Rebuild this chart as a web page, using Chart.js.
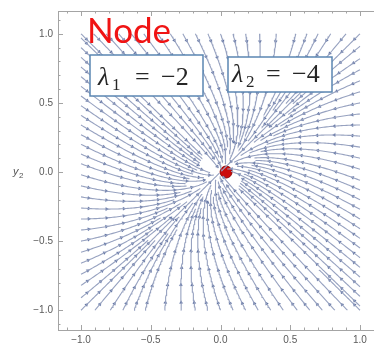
<!DOCTYPE html>
<html>
<head>
<meta charset="utf-8">
<script src="https://cdn.jsdelivr.net/npm/chart.js@4.4.1/dist/chart.umd.min.js"></script>
<style>
  html, body { margin: 0; padding: 0; background: #fff; overflow: hidden; width: 374px; height: 350px; }
  #wrap { position: absolute; left: 0; top: 0; width: 392px; height: 350px; }
</style>
</head>
<body>
<div id="wrap"><canvas id="c" width="392" height="350"></canvas></div>
<script>
// Linear system y' = A y, built from its eigenvalues and eigenvectors
const eigenvalues = [-2, -4];
const eigenvectors = [[1, 1], [1, -1]];

// Streamline start points on the edges of the square [-1, 1] x [-1, 1]
const bottomSeedsX = [-1.0, -0.9, -0.79, -0.7, -0.62, -0.54, -0.4, -0.28, -0.18, -0.09, 0.0, 0.09, 0.18, 0.27, 0.36, 0.45, 0.55, 0.64, 0.73, 0.82, 0.91, 1.0];
const topSeedsX = [1.0, 0.9, 0.79, 0.7, 0.62, 0.54, 0.4, 0.28, 0.18, 0.09, 0.0, -0.09, -0.18, -0.27, -0.36, -0.45, -0.55, -0.64, -0.73, -0.82, -0.91, -1.0];
const leftSeedsY = [0.97, 0.9, 0.83, 0.76, 0.69, 0.62, 0.55, 0.48, 0.41, 0.34, 0.27, 0.2, 0.13, 0.06, -0.02, -0.1, -0.18, -0.26, -0.34, -0.42, -0.5, -0.58, -0.66, -0.74, -0.82, -0.91];
const rightSeedsY = [-0.97, -0.9, -0.83, -0.76, -0.69, -0.62, -0.55, -0.48, -0.41, -0.34, -0.27, -0.2, -0.13, -0.06, 0.02, 0.1, 0.18, 0.26, 0.34, 0.42, 0.5, 0.58, 0.66, 0.74, 0.82, 0.91];

// The equilibrium marker
const markerPoint = [0.04, 0.0];

// Axis ticks
const xTickValues = [-1.0, -0.5, 0.0, 0.5, 1.0];
const xTickLabels = ['\u22121.0', '\u22120.5', '0.0', '0.5', '1.0'];
const yTickValues = [-1.0, -0.5, 0.0, 0.5, 1.0];
const yTickLabels = ['\u22121.0', '\u22120.5', '0.0', '0.5', '1.0'];

// ---- system matrix A = sum(lambda_i v_i v_i^T / |v_i|^2)
const A = [[0, 0], [0, 0]];
eigenvalues.forEach((lam, i) => {
  const v = eigenvectors[i];
  const n = v[0] * v[0] + v[1] * v[1];
  for (let r = 0; r < 2; r++) for (let c = 0; c < 2; c++) A[r][c] += lam * v[r] * v[c] / n;
});
function field(p) {
  return [A[0][0] * p[0] + A[0][1] * p[1], A[1][0] * p[0] + A[1][1] * p[1]];
}
function unitField(p) {
  const v = field(p);
  const m = Math.hypot(v[0], v[1]);
  return m < 1e-12 ? [0, 0] : [v[0] / m, v[1] / m];
}
// component of a point along the fast eigenvector
function fastComponent(p) {
  const v = eigenvectors[1];
  return Math.abs(p[0] * v[0] + p[1] * v[1]) / Math.hypot(v[0], v[1]);
}

// ---- evenly spaced streamlines
const STEP = 0.004, SEP = 0.018, SEED_SEP = 0.03, STOP_R = 0.012, MIN_POINTS = 16;
const cells = new Map();
const key = (x, y) => Math.floor(x / SEP) + ',' + Math.floor(y / SEP);
function nearOthers(p, d) {
  const cx = Math.floor(p[0] / SEP), cy = Math.floor(p[1] / SEP);
  const r = Math.ceil(d / SEP);
  for (let i = -r; i <= r; i++) for (let j = -r; j <= r; j++) {
    const list = cells.get((cx + i) + ',' + (cy + j));
    if (!list) continue;
    for (const q of list) if (Math.hypot(q[0] - p[0], q[1] - p[1]) < d) return true;
  }
  return false;
}
function integrate(start) {
  const pts = [start.slice()];
  let p = start.slice();
  for (let n = 0; n < 3000; n++) {
    const k1 = unitField(p);
    const k2 = unitField([p[0] + k1[0] * STEP / 2, p[1] + k1[1] * STEP / 2]);
    const k3 = unitField([p[0] + k2[0] * STEP / 2, p[1] + k2[1] * STEP / 2]);
    const k4 = unitField([p[0] + k3[0] * STEP, p[1] + k3[1] * STEP]);
    const q = [p[0] + STEP * (k1[0] + 2 * k2[0] + 2 * k3[0] + k4[0]) / 6,
               p[1] + STEP * (k1[1] + 2 * k2[1] + 2 * k3[1] + k4[1]) / 6];
    if (Math.abs(q[0]) > 1.0001 || Math.abs(q[1]) > 1.0001) break;
    if (Math.hypot(q[0], q[1]) < STOP_R) { pts.push(q); break; }
    if (nearOthers(q, SEP)) break;
    pts.push(q);
    p = q;
  }
  return pts;
}

const seeds = [];
leftSeedsY.forEach(y => seeds.push([-1, y]));
rightSeedsY.forEach(y => seeds.push([1, y]));
topSeedsX.forEach(x => seeds.push([x, 1]));
bottomSeedsX.forEach(x => seeds.push([x, -1]));
// lines closest to the slow direction are traced first
seeds.sort((a, b) => fastComponent(a) - fastComponent(b));

const streamlines = [];
for (const s of seeds) {
  if (nearOthers(s, SEED_SEP)) continue;
  const pts = integrate(s);
  if (pts.length < MIN_POINTS) continue;
  streamlines.push(pts);
  for (const q of pts) {
    const k = key(q[0], q[1]);
    if (!cells.has(k)) cells.set(k, []);
    cells.get(k).push(q);
  }
}

// ---- arrowheads along each streamline
const ARROW_GAP = 0.125, ARROW_START = 0.055;
const arrowPts = [], arrowRot = [];
streamlines.forEach(pts => {
  let s = 0, next = ARROW_START;
  for (let i = 1; i < pts.length; i++) {
    s += Math.hypot(pts[i][0] - pts[i - 1][0], pts[i][1] - pts[i - 1][1]);
    if (s >= next) {
      if (Math.hypot(pts[i][0], pts[i][1]) > 0.035) {
        const v = unitField(pts[i]);
        arrowPts.push({ x: pts[i][0], y: pts[i][1] });
        arrowRot.push(Math.atan2(v[0], v[1]) * 180 / Math.PI);
      }
      next += ARROW_GAP;
    }
  }
});

const lineColor = '#97a2c0';
const arrowColor = '#4f6499';

const datasets = streamlines.map(pts => ({
  data: pts.filter((q, i) => i % 3 === 0 || i === pts.length - 1).map(q => ({ x: q[0], y: q[1] })),
  showLine: true,
  borderColor: lineColor,
  borderWidth: 1.1,
  pointRadius: 0,
  tension: 0
}));
datasets.push({
  data: arrowPts,
  showLine: false,
  pointStyle: 'triangle',
  pointRadius: 1.8,
  rotation: arrowRot,
  backgroundColor: arrowColor,
  borderColor: arrowColor,
  borderWidth: 0.3
});
datasets.push({
  data: [{ x: markerPoint[0], y: markerPoint[1] }],
  showLine: false,
  pointStyle: 'circle',
  pointRadius: 6,
  backgroundColor: '#cc0a0a',
  borderColor: '#8e0505',
  borderWidth: 1
});

// Frame with inward Mathematica-style ticks
const framePlugin = {
  id: 'frame',
  beforeDatasetsDraw(chart) {
    const { ctx, chartArea: a, scales: { x, y } } = chart;
    ctx.save();
    ctx.strokeStyle = '#a4a4a4';
    ctx.lineWidth = 1;
    ctx.strokeRect(Math.round(a.left) + 0.5, Math.round(a.top) + 0.5, Math.round(a.right - a.left), Math.round(a.bottom - a.top));
    ctx.beginPath();
    for (let k = -11; k <= 11; k++) {
      const v = k / 10;
      const major = k % 5 === 0;
      const len = major ? 5 : 2.5;
      const px = Math.round(x.getPixelForValue(v)) + 0.5;
      if (px > a.left && px < a.right) {
        ctx.moveTo(px, a.bottom); ctx.lineTo(px, a.bottom - len);
        ctx.moveTo(px, a.top); ctx.lineTo(px, a.top + len);
      }
      const py = Math.round(y.getPixelForValue(v)) + 0.5;
      if (py > a.top && py < a.bottom) {
        ctx.moveTo(a.left, py); ctx.lineTo(a.left + len, py);
        ctx.moveTo(a.right, py); ctx.lineTo(a.right - len, py);
      }
    }
    ctx.stroke();
    ctx.restore();
  }
};

// Title, eigenvalue boxes and the y2 axis label
function drawLambda(ctx, box, sub, value, pos) {
  ctx.fillStyle = '#ffffff';
  ctx.fillRect(box[0], box[1], box[2], box[3]);
  ctx.strokeStyle = '#5b86b2';
  ctx.lineWidth = 1.5;
  ctx.strokeRect(box[0], box[1], box[2], box[3]);
  ctx.fillStyle = '#262626';
  ctx.textAlign = 'left';
  ctx.textBaseline = 'alphabetic';
  ctx.font = 'italic 26px "Liberation Serif"';
  ctx.fillText('\u03bb', pos.lam, pos.base);
  ctx.font = '17px "Liberation Serif"';
  ctx.fillText(sub, pos.sub, pos.base + 5);
  ctx.font = '26px "Liberation Serif"';
  ctx.fillText('=', pos.eq, pos.base);
  ctx.fillText('\u2212' + value, pos.val, pos.base);
}
const overlayPlugin = {
  id: 'overlay',
  afterDraw(chart) {
    const ctx = chart.ctx;
    ctx.save();
    drawLambda(ctx, [90, 55, 113, 41], '1', String(Math.abs(eigenvalues[0])), { lam: 98, sub: 112, eq: 135, val: 161, base: 85 });
    drawLambda(ctx, [228, 57, 104, 35], '2', String(Math.abs(eigenvalues[1])), { lam: 232, sub: 246, eq: 266, val: 292, base: 82 });
    ctx.fillStyle = '#f01414';
    ctx.font = '35px Lato';
    ctx.textAlign = 'left';
    ctx.textBaseline = 'alphabetic';
    ctx.fillText('Node', 87, 43);
    ctx.fillStyle = '#555555';
    ctx.font = 'italic 11px "Liberation Sans"';
    ctx.fillText('y', 13, 175);
    ctx.font = '8px "Liberation Sans"';
    ctx.fillText('2', 19, 178);
    ctx.restore();
  }
};

new Chart(document.getElementById('c'), {
  type: 'scatter',
  data: { datasets },
  options: {
    responsive: false,
    animation: false,
    devicePixelRatio: 1,
    layout: { padding: { top: 8, right: 9, bottom: 0, left: 0 } },
    plugins: { legend: { display: false }, tooltip: { enabled: false } },
    scales: {
      x: {
        type: 'linear', min: -1.165, max: 1.165,
        afterBuildTicks: s => { s.ticks = xTickValues.map(v => ({ value: v })); },
        afterFit: s => { s.height = 20; },
        grid: { display: false, drawTicks: false },
        border: { display: false },
        ticks: { callback: (v, i) => xTickLabels[i], color: '#5a5a5a', padding: 4, maxRotation: 0, font: { family: 'Liberation Sans', size: 10 } }
      },
      y: {
        type: 'linear', min: -1.143, max: 1.165,
        afterBuildTicks: s => { s.ticks = yTickValues.map(v => ({ value: v })); },
        afterFit: s => { s.width = 58; },
        grid: { display: false, drawTicks: false },
        border: { display: false },
        ticks: { callback: (v, i) => yTickLabels[i], color: '#5a5a5a', padding: 5, font: { family: 'Liberation Sans', size: 10 } }
      }
    }
  },
  plugins: [framePlugin, overlayPlugin]
});
</script>
</body>
</html>
